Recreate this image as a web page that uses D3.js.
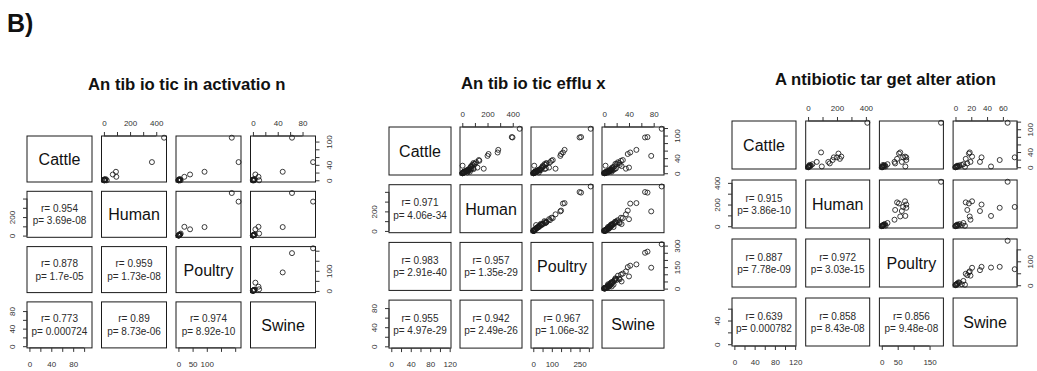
<!DOCTYPE html>
<html>
<head>
<meta charset="utf-8">
<script src="https://cdn.jsdelivr.net/npm/d3@7"></script>
<style>
  body { margin: 0; background: #fff; }
  svg { display: block; }
  text { font-family: "Liberation Sans", Arial, Helvetica, sans-serif; }
</style>
</head>
<body>
<svg id="chart" width="1037" height="371"></svg>
<script>
// Variables compared in every scatterplot matrix
const variables = ["Cattle", "Human", "Poultry", "Swine"];

// ---- Antibiotic inactivation (15 genes) ----
const inactCattle  = [110, 47, 22, 15,  9,  0, 2, 1, 0, 3, 0, 1, 0, 2, 0];
const inactHuman   = [460, 367, 92, 68, 95, 22, 5, 10, 2, 14, 0, 3, 8, 1, 6];
const inactPoultry = [188, 212, 92, 41, 21, 8, 3, 5, 1, 6, 0, 2, 4, 1, 2];
const inactSwine   = [63, 97, 48, 4, 9, 10, 1, 2, 0, 3, 0, 1, 2, 0, 1];
const inactR = ["0.954", "0.878", "0.959", "0.773", "0.89", "0.974"];
const inactP = ["3.69e-08", "1.7e-05", "1.73e-08", "0.000724", "8.73e-06", "8.92e-10"];
const inactTicks   = [[0, 20, 40, 60, 80, 100], [0, 100, 200, 300, 400], [0, 50, 100, 150, 200], [0, 20, 40, 60, 80]];
const inactXLabels = [[0, 40, 80], [0, 200, 400], [0, 50, 100], [0, 40, 80]];
const inactYLabels = [[0, 40, 100], [0, 200], [0, 100], [0, 40, 80]];

// ---- Antibiotic efflux ----
const effluxCattle  = [118, 96, 95, 62, 55, 51, 46, 35, 33, 29, 27, 25, 24, 22, 20, 18, 16, 14, 13, 12, 11, 10, 9, 9, 8, 7, 7, 6, 6, 5, 5, 4, 4, 3, 3, 3, 2, 2, 2, 1, 1, 1, 0, 0, 0, 12, 15, 19, 4, 2];
const effluxHuman   = [455, 392, 398, 285, 280, 208, 200, 131, 135, 110, 88, 95, 100, 80, 2, 75, 68, 60, 85, 72, 90, 55, 40, 65, 45, 35, 50, 30, 42, 25, 20, 15, 28, 12, 18, 10, 8, 5, 14, 4, 3, 6, 2, 0, 1, 170, 120, 70, 60, 40];
const effluxPoultry = [310, 258, 250, 169, 160, 150, 146, 105, 98, 90, 70, 72, 60, 65, 5, 55, 48, 45, 68, 40, 62, 35, 28, 42, 30, 22, 35, 20, 25, 18, 12, 10, 15, 8, 12, 6, 5, 4, 9, 3, 2, 4, 1, 0, 1, 120, 85, 50, 15, 30];
const effluxSwine   = [93, 70, 66, 52, 42, 38, 76, 30, 27, 22, 24, 18, 20, 25, 2, 16, 14, 12, 19, 13, 17, 10, 15, 11, 8, 9, 12, 6, 10, 5, 7, 4, 8, 3, 5, 2, 3, 1, 4, 2, 1, 0, 1, 0, 0, 35, 40, 28, 12, 6];
const effluxR = ["0.971", "0.983", "0.957", "0.955", "0.942", "0.967"];
const effluxP = ["4.06e-34", "2.91e-40", "1.35e-29", "4.97e-29", "2.49e-26", "1.06e-32"];
const effluxTicks   = [[0, 20, 40, 60, 80, 100, 120], [0, 100, 200, 300, 400], [0, 50, 100, 150, 200, 250, 300], [0, 20, 40, 60, 80]];
const effluxXLabels = [[0, 40, 80, 120], [0, 200, 400], [0, 100, 250], [0, 40, 80]];
const effluxYLabels = [[0, 40, 100], [0, 200], [0, 150, 300], [0, 40, 80]];

// ---- Antibiotic target alteration (24 genes) ----
const targetCattle  = [117, 26, 19, 2, 26, 14, 39, 36, 22, 28, 14, 10, 8, 5, 3, 2, 1, 0, 4, 1, 0, 6, 2, 1];
const targetHuman   = [410, 178, 170, 95, 200, 140, 90, 210, 220, 230, 60, 150, 30, 20, 12, 8, 5, 2, 15, 3, 0, 10, 6, 4];
const targetPoultry = [186, 67, 77, 74, 77, 63, 58, 54, 48, 73, 40, 42, 18, 10, 8, 5, 3, 2, 6, 1, 0, 4, 12, 2];
const targetSwine   = [66, 75, 56, 45, 33, 31, 18, 17, 13, 21, 19, 15, 10, 5, 3, 2, 1, 0, 2, 1, 0, 8, 4, 12];
const targetR = ["0.915", "0.887", "0.972", "0.639", "0.858", "0.856"];
const targetP = ["3.86e-10", "7.78e-09", "3.03e-15", "0.000782", "8.43e-08", "9.48e-08"];
const targetTicks   = [[0, 20, 40, 60, 80, 100, 120], [0, 100, 200, 300, 400], [0, 50, 100, 150], [0, 20, 40, 60]];
const targetXLabels = [[0, 40, 80, 120], [0, 200, 400], [0, 50, 150], [0, 20, 40, 60]];
const targetYLabels = [[0, 40, 100], [0, 200, 400], [0, 100], [0, 40]];

const panels = [
  { title: "An tib io tic in activatio n", titleX: 88, titleY: 90,
    left: 27, top: 136, w: 65, h: 46, stepX: 74.5, stepY: 55.3,
    data: [inactCattle, inactHuman, inactPoultry, inactSwine],
    r: inactR, p: inactP, ticks: inactTicks, xLabels: inactXLabels, yLabels: inactYLabels },
  { title: "An tib io tic efflu x", titleX: 461, titleY: 89,
    left: 389, top: 127, w: 62, h: 48, stepX: 71, stepY: 57.7,
    data: [effluxCattle, effluxHuman, effluxPoultry, effluxSwine],
    r: effluxR, p: effluxP, ticks: effluxTicks, xLabels: effluxXLabels, yLabels: effluxYLabels },
  { title: "A ntibiotic tar get alter ation", titleX: 775, titleY: 85,
    left: 732, top: 121, w: 64, h: 48, stepX: 73.7, stepY: 59,
    data: [targetCattle, targetHuman, targetPoultry, targetSwine],
    r: targetR, p: targetP, ticks: targetTicks, xLabels: targetXLabels, yLabels: targetYLabels }
];

const svg = d3.select("#chart");
const ink = "#1a1a1a";
const axisInk = "#333";

svg.append("text")
  .attr("x", 7).attr("y", 32)
  .attr("font-size", 25).attr("font-weight", "bold")
  .attr("fill", "#111")
  .text("B)");

function drawAxis(g, scale, side, ticks, labels, x, y) {
  const make = { top: d3.axisTop, bottom: d3.axisBottom, left: d3.axisLeft, right: d3.axisRight }[side];
  const axis = make(scale)
    .tickValues(ticks)
    .tickSizeInner(4)
    .tickSizeOuter(0)
    .tickFormat(d => labels.includes(d) ? d : "");
  const ag = g.append("g")
    .attr("transform", `translate(${x},${y})`)
    .attr("color", axisInk)
    .call(axis);
  ag.attr("font-size", 8).attr("font-family", null);
  ag.select(".domain").remove();
  const a = scale(ticks[0]), b = scale(ticks[ticks.length - 1]);
  const horizontal = side === "top" || side === "bottom";
  ag.append("line")
    .attr("x1", horizontal ? a : 0).attr("x2", horizontal ? b : 0)
    .attr("y1", horizontal ? 0 : a).attr("y2", horizontal ? 0 : b)
    .attr("stroke", axisInk).attr("stroke-width", 1);
  const txt = ag.selectAll(".tick text");
  if (side === "top") txt.attr("y", -10).attr("dy", null);
  if (side === "bottom") txt.attr("y", 19).attr("dy", null);
  if (side === "left" || side === "right") {
    txt.attr("x", 0).attr("dy", null)
      .attr("y", side === "left" ? -12.5 : 16)
      .attr("text-anchor", "middle")
      .attr("transform", "rotate(-90)");
  }
}

panels.forEach(cfg => {
  const g = svg.append("g");
  const n = variables.length;
  const cx = k => cfg.left + k * cfg.stepX;
  const cy = k => cfg.top + k * cfg.stepY;

  const xs = cfg.data.map((vals, k) => {
    const [lo, hi] = d3.extent(vals);
    const pad = (hi - lo) * 0.04;
    return d3.scaleLinear().domain([lo - pad, hi + pad]).range([cx(k), cx(k) + cfg.w]);
  });
  const ys = cfg.data.map((vals, k) => {
    const [lo, hi] = d3.extent(vals);
    const pad = (hi - lo) * 0.04;
    return d3.scaleLinear().domain([lo - pad, hi + pad]).range([cy(k) + cfg.h, cy(k)]);
  });

  g.append("text")
    .attr("x", cfg.titleX).attr("y", cfg.titleY)
    .attr("font-size", 16.7).attr("font-weight", "bold")
    .attr("fill", "#111")
    .text(cfg.title);

  const lowerCells = [[1, 0], [2, 0], [2, 1], [3, 0], [3, 1], [3, 2]];
  for (let i = 0; i < n; i++) {
    for (let j = 0; j < n; j++) {
      const x0 = cx(j), y0 = cy(i);
      if (i > j) {
        // lower triangle: correlation and p-value
        const k = lowerCells.findIndex(([a, b]) => a === i && b === j);
        const t = g.append("text")
          .attr("text-anchor", "middle")
          .attr("font-size", 10)
          .attr("fill", "#2a2a2a");
        t.append("tspan").attr("x", x0 + cfg.w / 2).attr("y", y0 + cfg.h / 2 - 2.5).text("r= " + cfg.r[k]);
        t.append("tspan").attr("x", x0 + cfg.w / 2).attr("y", y0 + cfg.h / 2 + 10).text("p= " + cfg.p[k]);
      } else if (i === j) {
        g.append("text")
          .attr("x", x0 + cfg.w / 2).attr("y", y0 + cfg.h / 2 + 6)
          .attr("text-anchor", "middle")
          .attr("font-size", 16)
          .attr("fill", "#111")
          .text(variables[i]);
      } else {
        // upper triangle: scatter of column variable against row variable
        g.append("g").selectAll("circle")
          .data(d3.range(cfg.data[0].length))
          .join("circle")
          .attr("cx", k => xs[j](cfg.data[j][k]))
          .attr("cy", k => ys[i](cfg.data[i][k]))
          .attr("r", 2.5)
          .attr("fill", "none")
          .attr("stroke", ink)
          .attr("stroke-width", 0.85);
      }
      g.append("rect")
        .attr("x", x0).attr("y", y0)
        .attr("width", cfg.w).attr("height", cfg.h)
        .attr("fill", "none")
        .attr("stroke", ink).attr("stroke-width", 1);
    }
  }

  // R-style alternating axes
  for (let k = 0; k < n; k++) {
    if (k % 2 === 1) {
      drawAxis(g, xs[k], "top", cfg.ticks[k], cfg.xLabels[k], 0, cy(0));
      drawAxis(g, ys[k], "left", cfg.ticks[k], cfg.yLabels[k], cx(0), 0);
    } else {
      drawAxis(g, xs[k], "bottom", cfg.ticks[k], cfg.xLabels[k], 0, cy(n - 1) + cfg.h);
      drawAxis(g, ys[k], "right", cfg.ticks[k], cfg.yLabels[k], cx(n - 1) + cfg.w, 0);
    }
  }
});
</script>
</body>
</html>
